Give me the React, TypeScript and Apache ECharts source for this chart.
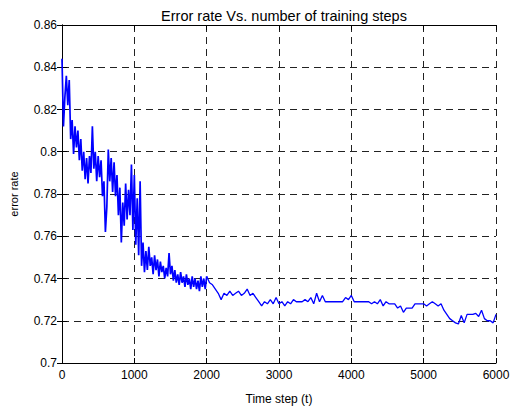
import React, { useEffect, useRef } from "react";
import * as echarts from "echarts";

const chartTitle = "Error rate Vs. number of training steps";
const xAxisName = "Time step (t)";
const yAxisName = "error rate";

// Early phase: one reading every 20 steps, t = 0 .. 2000
const earlyStep = 20;
const earlyErrorRate = [
  0.844, 0.812, 0.826, 0.836, 0.822, 0.834, 0.806, 0.815, 0.799, 0.812,
  0.802, 0.81, 0.796, 0.806, 0.791, 0.8, 0.787, 0.797, 0.785, 0.798,
  0.79, 0.812, 0.792, 0.8, 0.786, 0.798, 0.788, 0.796, 0.779, 0.786,
  0.762, 0.774, 0.801, 0.786, 0.797, 0.781, 0.795, 0.779, 0.789, 0.77,
  0.783, 0.757, 0.776, 0.765, 0.785, 0.768, 0.782, 0.77, 0.794, 0.763,
  0.789, 0.756, 0.778, 0.751, 0.786, 0.746, 0.757, 0.743, 0.753, 0.744,
  0.755, 0.746, 0.75, 0.742, 0.751, 0.744, 0.749, 0.741, 0.748, 0.743,
  0.746, 0.74, 0.745, 0.741, 0.752, 0.742, 0.746, 0.739, 0.744, 0.738,
  0.742, 0.737, 0.743, 0.738, 0.741, 0.736, 0.742, 0.737, 0.74, 0.735,
  0.741, 0.736, 0.74, 0.735, 0.739, 0.734, 0.741, 0.736, 0.74, 0.735,
  0.741,
];

// Late phase: one reading every 40 steps, t = 2040 .. 6000
const lateStart = 2040;
const lateStep = 40;
const lateErrorRate = [
  0.738, 0.737, 0.735, 0.733, 0.73, 0.733, 0.732, 0.734, 0.732, 0.733,
  0.734, 0.732, 0.733, 0.735, 0.732, 0.733, 0.731, 0.729, 0.727, 0.729,
  0.728, 0.73, 0.728, 0.731, 0.728, 0.729, 0.727, 0.729, 0.728, 0.73,
  0.729, 0.729, 0.729, 0.73, 0.729, 0.731, 0.728, 0.733, 0.729, 0.732,
  0.729, 0.729, 0.729, 0.729, 0.729, 0.729, 0.729, 0.731, 0.73, 0.732,
  0.729, 0.729, 0.729, 0.729, 0.729, 0.729, 0.728, 0.729, 0.728, 0.73,
  0.727, 0.729, 0.728, 0.728, 0.728, 0.726, 0.727, 0.724, 0.726, 0.726,
  0.726, 0.728, 0.728, 0.728, 0.728, 0.727, 0.728, 0.729, 0.728, 0.727,
  0.728, 0.725, 0.723, 0.721, 0.72, 0.719, 0.7185, 0.7225, 0.719, 0.723,
  0.723, 0.723, 0.7235, 0.722, 0.725, 0.721, 0.72, 0.72, 0.719, 0.723,
];

const xTicks = { min: 0, max: 6000, interval: 1000 };
const yTicks = { min: 0.7, max: 0.86, interval: 0.02 };

const FONT = "'Liberation Sans', Arial, Helvetica, sans-serif";

export default function App() {
  const ref = useRef<HTMLDivElement>(null);

  useEffect(() => {
    if (!ref.current) return;
    const chart = echarts.init(ref.current, undefined, { renderer: "svg" });

    const earlyData: [number, number][] = earlyErrorRate.map((v, i) => [i * earlyStep, v]);
    const lastEarly = earlyData[earlyData.length - 1];
    const lateData: [number, number][] = [lastEarly].concat(
      lateErrorRate.map((v, i) => [lateStart + i * lateStep, v] as [number, number])
    );

    const gridLine = {
      show: true,
      lineStyle: { color: "#222", width: 1, type: [7, 5] as any },
    };
    const axisLine = { show: true, lineStyle: { color: "#000", width: 1 } };
    const tick = { show: true, inside: true, length: 5, lineStyle: { color: "#000" } };

    chart.setOption({
      animation: false,
      backgroundColor: "#fff",
      title: {
        text: chartTitle,
        left: 279,
        top: 3,
        textAlign: "center",
        textStyle: { fontFamily: FONT, fontSize: 14.5, fontWeight: "normal", color: "#000" },
      },
      grid: { left: 62, right: 17, top: 25, bottom: 43, containLabel: false },
      xAxis: [
        {
          type: "value",
          position: "bottom",
          ...xTicks,
          name: xAxisName,
          nameLocation: "middle",
          nameGap: 30,
          nameTextStyle: { fontFamily: FONT, fontSize: 12, color: "#000" },
          axisLine,
          axisTick: tick,
          axisLabel: {
            fontFamily: FONT,
            fontSize: 12,
            color: "#000",
            margin: 6,
            formatter: (v: number) => String(v),
          },
          splitLine: gridLine,
        },
        {
          type: "value",
          position: "top",
          ...xTicks,
          axisLine,
          axisTick: tick,
          axisLabel: { show: false },
          splitLine: { show: false },
        },
      ],
      yAxis: [
        {
          type: "value",
          position: "left",
          ...yTicks,
          name: yAxisName,
          nameLocation: "middle",
          nameGap: 43,
          nameRotate: 90,
          nameTextStyle: { fontFamily: FONT, fontSize: 11, color: "#000" },
          axisLine,
          axisTick: tick,
          axisLabel: {
            fontFamily: FONT,
            fontSize: 12,
            color: "#000",
            margin: 5,
            formatter: (v: number) => String(parseFloat(v.toFixed(2))),
          },
          splitLine: gridLine,
        },
        {
          type: "value",
          position: "right",
          ...yTicks,
          axisLine,
          axisTick: tick,
          axisLabel: { show: false },
          splitLine: { show: false },
        },
      ],
      series: [
        {
          type: "line",
          name: "early",
          data: earlyData,
          showSymbol: false,
          symbol: "none",
          lineStyle: { color: "#0000ff", width: 1.7 },
          xAxisIndex: 0,
          yAxisIndex: 0,
        },
        {
          type: "line",
          name: "late",
          data: lateData,
          showSymbol: false,
          symbol: "none",
          lineStyle: { color: "#0000ff", width: 1.3 },
          xAxisIndex: 0,
          yAxisIndex: 0,
        },
      ],
    });

    return () => chart.dispose();
  }, []);

  return (
    <div
      ref={ref}
      style={{ position: "fixed", left: 0, top: 0, width: 513, height: 410, background: "#fff" }}
    />
  );
}
